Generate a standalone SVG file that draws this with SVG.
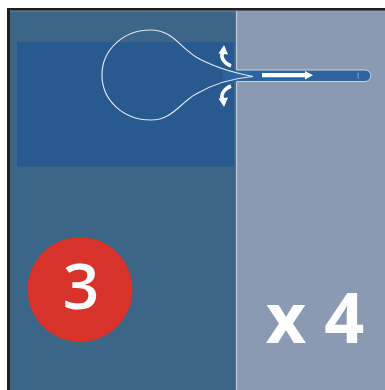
<svg xmlns="http://www.w3.org/2000/svg" width="385" height="390" viewBox="0 0 385 390">
  <defs>
    <style>
      .flow { fill: none; stroke: #ffffff; stroke-width: 3.6; stroke-linecap: butt; }
      .head { fill: #ffffff; }
      .label { fill: #ffffff; font-family: "Open Sans", "Liberation Sans", sans-serif; }
    </style>
  </defs>

  <!-- background and frame -->
  <rect x="0" y="0" width="385" height="390" fill="#ffffff"/>
  <g id="panels">
    <rect x="10" y="10" width="227" height="380" fill="#3b6688"/>
    <rect x="237" y="10" width="148" height="380" fill="#8b9ab3"/>
    <rect x="17" y="42" width="217" height="124.5" fill="#28598f"/>
    <line x1="236.5" y1="10" x2="236.5" y2="390" stroke="#c4cbd7" stroke-width="1.2"/>
    <line x1="10" y1="10.8" x2="385" y2="10.8" stroke="#9aa3b2" stroke-width="1"/>
    <rect x="7" y="8" width="378" height="2.5" fill="#1f1f1f"/>
    <rect x="7" y="8" width="3" height="382" fill="#1f1f1f"/>
  </g>

  <!-- outlet tube -->
  <g id="tube">
    <rect x="223" y="70" width="14" height="11.5" fill="#2d62a0"/>
    <path d="M236.5,70 H365 A5.5,5.5 0 0 1 365,81.5 H236.5" fill="#2c64a0" stroke="#c9d1dd" stroke-width="1"/>
    <rect x="357.5" y="72.5" width="1.5" height="6" fill="#6b8fb9"/>
  </g>

  <!-- bulb outline -->
  <g id="bulb">
    <path d="M253,76.5 C235,73 215,68 196,57 C180,47 172,30 151,30 C123,30 102,50 102,75 C102,100 123,120 151,120 C172,120 180,103 196,94 C215,83 235,78 253,76.5 Z" fill="none" stroke="#dfe5ee" stroke-width="1.2"/>
  </g>

  <!-- flow arrows -->
  <g id="connectors">
    <line x1="262" y1="75.2" x2="306" y2="75.2" stroke="#ffffff" stroke-width="4.2"/>
    <polygon class="head" points="305,71 313,75.2 305,79.5"/>

    <path class="flow" d="M231,66 C224,63 220.5,58 222.5,52"/>
    <polygon class="head" points="218.5,53.5 224,45 228,54.5"/>

    <path class="flow" d="M231,86 C224,89 220.5,94 222.5,100"/>
    <polygon class="head" points="218.5,98.5 224,107 228,97.5"/>
  </g>

  <!-- step badge -->
  <g id="badge">
    <circle cx="80" cy="289.5" r="52.5" fill="#d7332a"/>
    <text class="label" x="81" y="309" font-size="64" font-weight="600" text-anchor="middle">3</text>
  </g>

  <!-- repeat count -->
  <g id="count">
    <text class="label" x="315" y="343" font-size="70" font-weight="700" text-anchor="middle">x 4</text>
  </g>
</svg>
